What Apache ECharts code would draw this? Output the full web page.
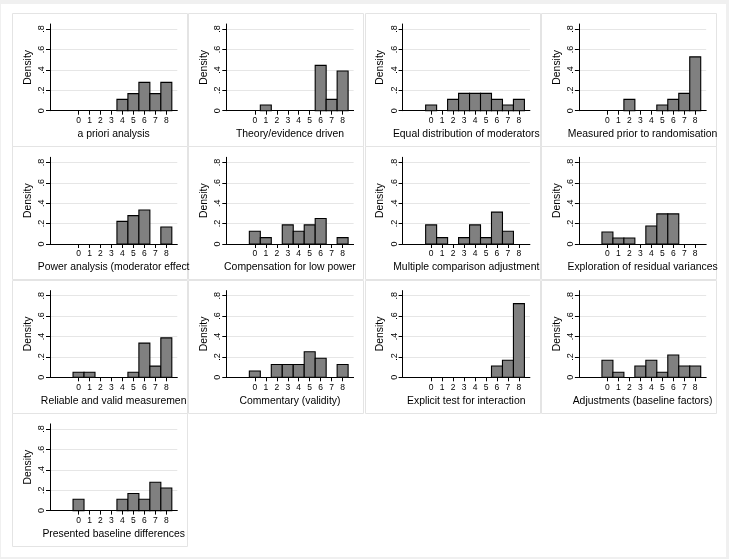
<!DOCTYPE html>
<html>
<head>
<meta charset="utf-8">
<script src="https://cdn.jsdelivr.net/npm/echarts@6/dist/echarts.min.js"></script>
<style>
html,body{margin:0;padding:0;background:#f0f0f0;}
#chart{width:729px;height:559px;}
</style>
</head>
<body>
<div id="chart"></div>
<script>
// ---- data ----
const bins = [0, 1, 2, 3, 4, 5, 6, 7, 8];
const xTickLabels = ['0', '1', '2', '3', '4', '5', '6', '7', '8'];
const yTickValues = [0, 0.2, 0.4, 0.6, 0.8];
const yTickLabels = ['0', '.2', '.4', '.6', '.8'];
const yAxisTitle = 'Density';

const panelTitles = [
  'a priori analysis',
  'Theory/evidence driven',
  'Equal distribution of moderators',
  'Measured prior to randomisation',
  'Power analysis (moderator effect',
  'Compensation for low power',
  'Multiple comparison adjustment',
  'Exploration of residual variances',
  'Reliable and valid measuremen',
  'Commentary (validity)',
  'Explicit test for interaction',
  'Adjustments (baseline factors)',
  'Presented baseline differences'
];

const aPriori        = [0, 0, 0, 0, 0.111, 0.167, 0.278, 0.167, 0.278];
const theoryDriven   = [0, 0.056, 0, 0, 0, 0, 0.444, 0.111, 0.389];
const equalDist      = [0.056, 0, 0.111, 0.17, 0.17, 0.17, 0.111, 0.056, 0.111];
const measuredPrior  = [0, 0, 0.111, 0, 0, 0.056, 0.111, 0.17, 0.528];
const powerAnalysis  = [0, 0, 0, 0, 0.222, 0.278, 0.333, 0, 0.167];
const compensation   = [0.125, 0.0625, 0, 0.1875, 0.125, 0.1875, 0.25, 0, 0.0625];
const multipleComp   = [0.1875, 0.0625, 0, 0.0625, 0.1875, 0.0625, 0.3125, 0.125, 0];
const residualVar    = [0.117, 0.059, 0.059, 0, 0.177, 0.295, 0.295, 0, 0];
const reliableValid  = [0.05, 0.05, 0, 0, 0, 0.05, 0.335, 0.11, 0.387];
const commentary     = [0.0625, 0, 0.125, 0.125, 0.125, 0.25, 0.1875, 0, 0.125];
const explicitTest   = [0, 0, 0, 0, 0, 0, 0.111, 0.167, 0.722];
const adjustments    = [0.167, 0.05, 0, 0.111, 0.167, 0.05, 0.218, 0.111, 0.111];
const presentedBase  = [0.111, 0, 0, 0, 0.111, 0.167, 0.111, 0.278, 0.222];

const panelValues = [aPriori, theoryDriven, equalDist, measuredPrior, powerAnalysis,
  compensation, multipleComp, residualVar, reliableValid, commentary, explicitTest,
  adjustments, presentedBase];

// ---- layout ----
const X0 = 12, Y0 = 13, STEP_X = 176.3, STEP_Y = 133.3;
const PANEL_W = 175, PANEL_H = 133;
const FONT = '"Liberation Sans", Arial, Helvetica, sans-serif';

const grids = [], xAxes = [], yAxes = [], series = [];
const graphics = [
  { type: 'rect', z: -100, shape: { x: 1, y: 4, width: 725, height: 553 }, style: { fill: '#ffffff' } }
];

panelValues.forEach((vals, i) => {
  const col = i % 4, row = Math.floor(i / 4);
  const px = X0 + col * STEP_X, py = Y0 + row * STEP_Y;
  graphics.push({ type: 'rect', z: -50,
    shape: { x: Math.round(px) + 0.5, y: Math.round(py) + 0.5, width: PANEL_W, height: PANEL_H },
    style: { fill: null, stroke: '#e4e4e4', lineWidth: 1 } });
  grids.push({ left: px + 38, top: py + 11, width: 127.3, height: 86.7, containLabel: false });
  xAxes.push({
    type: 'value', gridIndex: i, min: -2.6, max: 9,
    name: panelTitles[i], nameLocation: 'middle', nameGap: 18.5,
    nameTextStyle: { fontFamily: FONT, fontSize: 10.4, color: '#000' },
    axisLine: { show: true, lineStyle: { color: '#000', width: 1 } },
    axisTick: { show: true, length: 4, customValues: bins, lineStyle: { color: '#000' } },
    axisLabel: { show: true, customValues: bins, margin: 5.5, fontFamily: FONT, fontSize: 8.5, color: '#000',
      formatter: v => xTickLabels[bins.indexOf(v)] },
    splitLine: { show: false }
  });
  yAxes.push({
    type: 'value', gridIndex: i, min: 0, max: 0.85,
    name: yAxisTitle, nameLocation: 'middle', nameGap: 17,
    nameTextStyle: { fontFamily: FONT, fontSize: 10.4, color: '#000' },
    axisLine: { show: true, onZero: false, lineStyle: { color: '#000', width: 1 } },
    axisTick: { show: true, length: 4, customValues: yTickValues, lineStyle: { color: '#000' } },
    axisLabel: { show: true, customValues: yTickValues, rotate: 90, margin: 4, fontFamily: FONT, fontSize: 9, color: '#000',
      formatter: v => { const k = yTickValues.findIndex(t => Math.abs(t - v) < 1e-9); return k >= 0 ? yTickLabels[k] : ''; } },
    splitLine: { show: true, lineStyle: { color: '#e6e6e6', width: 1 } }
  });
  const data = [];
  bins.forEach((b, k) => { if (vals[k] > 0) data.push([b, vals[k]]); });
  series.push({
    type: 'custom', xAxisIndex: i, yAxisIndex: i, data: data, clip: false,
    renderItem: (params, api) => {
      const x = api.value(0), y = api.value(1);
      const p0 = api.coord([x - 0.5, y]);
      const p1 = api.coord([x + 0.5, 0]);
      return { type: 'rect',
        shape: { x: p0[0], y: p0[1], width: p1[0] - p0[0], height: p1[1] - p0[1] },
        style: { fill: '#808080', stroke: '#000000', lineWidth: 1.1 } };
    }
  });
});

const chart = echarts.init(document.getElementById('chart'), null, { renderer: 'canvas' });
chart.setOption({
  backgroundColor: '#f0f0f0',
  animation: false,
  graphic: { elements: graphics },
  grid: grids, xAxis: xAxes, yAxis: yAxes, series: series
});
</script>
</body>
</html>
